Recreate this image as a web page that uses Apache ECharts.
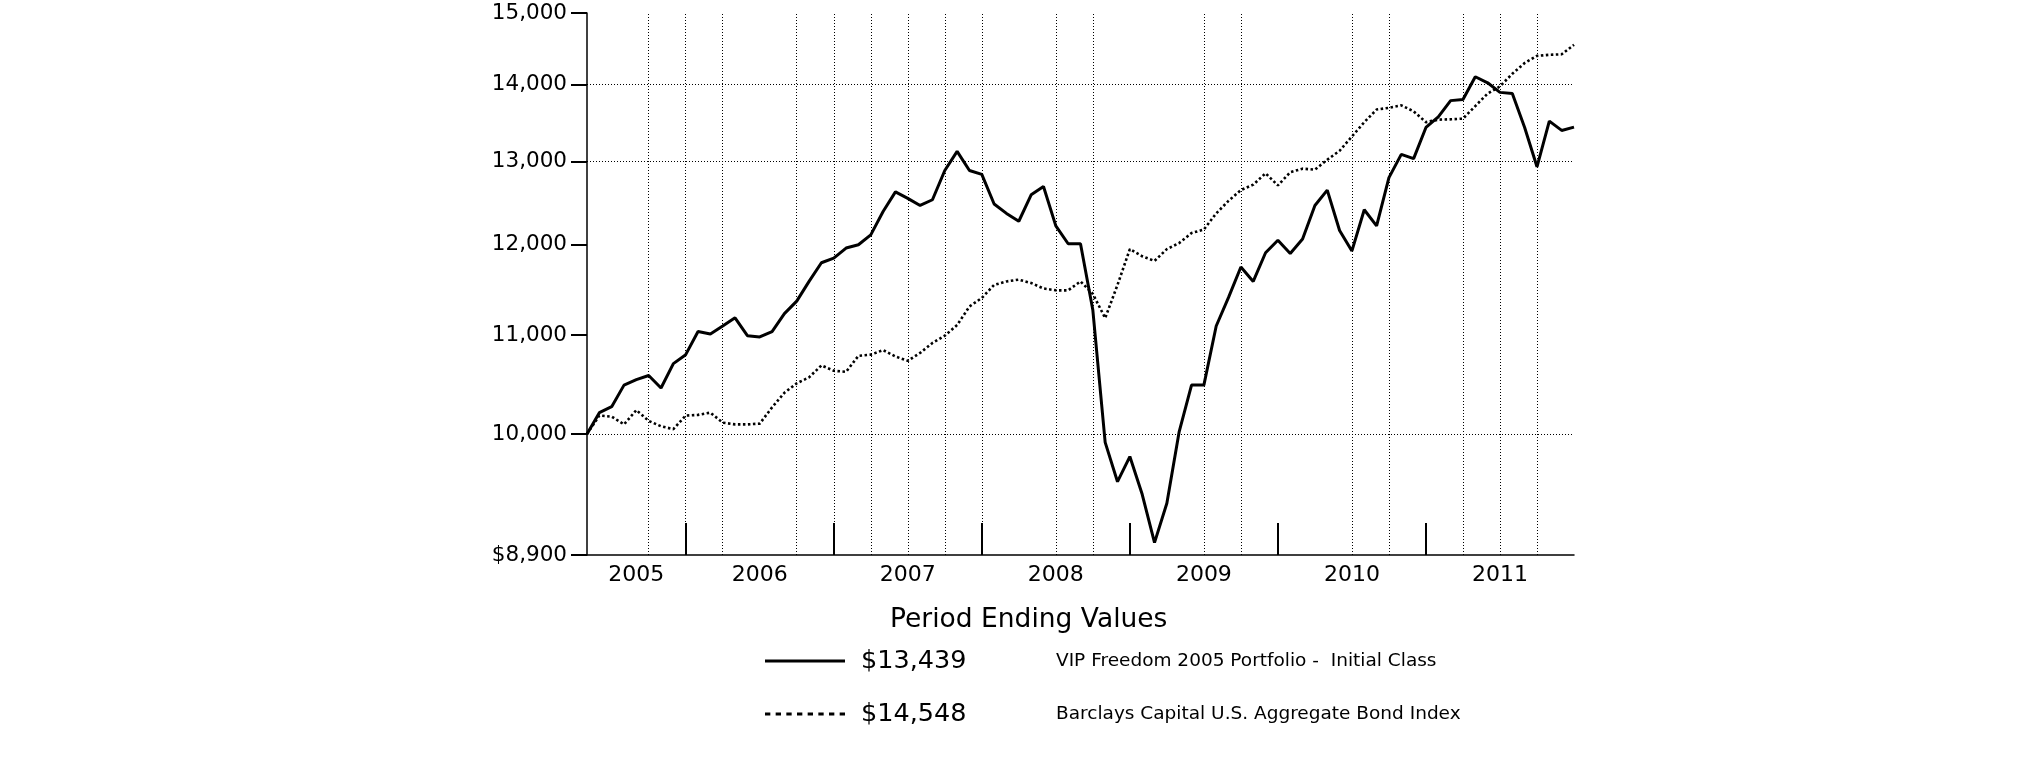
<!DOCTYPE html>
<html>
<head>
<meta charset="utf-8">
<script src="https://cdn.jsdelivr.net/npm/echarts@6/dist/echarts.min.js"></script>
<style>html,body{margin:0;padding:0;background:#fff}#chart{width:2025px;height:761px}</style>
</head>
<body>
<div id="chart"></div>
<script>
// ---------- data ----------
const months = [
  '2005-04','2005-05','2005-06','2005-07','2005-08','2005-09','2005-10','2005-11','2005-12',
  '2006-01','2006-02','2006-03','2006-04','2006-05','2006-06','2006-07','2006-08','2006-09','2006-10','2006-11','2006-12',
  '2007-01','2007-02','2007-03','2007-04','2007-05','2007-06','2007-07','2007-08','2007-09','2007-10','2007-11','2007-12',
  '2008-01','2008-02','2008-03','2008-04','2008-05','2008-06','2008-07','2008-08','2008-09','2008-10','2008-11','2008-12',
  '2009-01','2009-02','2009-03','2009-04','2009-05','2009-06','2009-07','2009-08','2009-09','2009-10','2009-11','2009-12',
  '2010-01','2010-02','2010-03','2010-04','2010-05','2010-06','2010-07','2010-08','2010-09','2010-10','2010-11','2010-12',
  '2011-01','2011-02','2011-03','2011-04','2011-05','2011-06','2011-07','2011-08','2011-09','2011-10','2011-11','2011-12'
];
const portfolio = [
  10000,10208,10267,10482,10537,10580,10453,10701,10794,
  11037,11011,11096,11184,10993,10980,11037,11229,11365,11583,11793,11845,
  11961,11999,12114,12389,12626,12548,12462,12531,12889,13129,12889,12840,
  12480,12367,12274,12591,12692,12219,12011,12011,11268,9920,9551,9785,
  9436,9007,9355,10023,10482,10482,11096,11406,11745,11583,11907,12052,
  11899,12065,12462,12648,12165,11928,12411,12219,12801,13091,13037,13434,
  13573,13786,13800,14107,14025,13896,13881,13434,12935,13517,13396,13439
];
const bondIndex = [
  10000,10179,10169,10093,10233,10127,10075,10047,10179,
  10186,10208,10110,10093,10093,10100,10260,10405,10500,10561,10683,10628,
  10617,10782,10794,10842,10775,10730,10812,10917,10993,11106,11307,11400,
  11544,11583,11603,11565,11505,11484,11484,11583,11445,11181,11544,11949,
  11867,11814,11949,12019,12135,12177,12367,12518,12648,12714,12854,12705,
  12867,12912,12899,13023,13136,13318,13503,13668,13691,13724,13645,13503,
  13536,13540,13549,13714,13881,13977,14147,14294,14393,14408,14415,14548
];
const seriesNames = ['VIP Freedom 2005 Portfolio -  Initial Class', 'Barclays Capital U.S. Aggregate Bond Index'];
const yearLabels = ['2005','2006','2007','2008','2009','2010','2011'];
const yearLabelIdx = [4,14,26,38,50,62,74];
const yearTickIdx = [8,20,32,44,56,68];
const vGridIdx = [5,8,11,17,20,23,26,29,32,38,41,50,53,62,65,71,74,77];
const yTickValues = [8900,10000,11000,12000,13000,14000,15000];
const yTickLabels = ['$8,900','10,000','11,000','12,000','13,000','14,000','15,000'];
const hGridValues = [10000,13000,14000];
const yMin = 8900, yMax = 15000;

// ---------- chart ----------
const FONT = 'DejaVu Sans';
const toLog = v => Math.log10(v);
const endLabel = arr => '$' + arr[arr.length - 1].toLocaleString('en-US');
const endLabels = [endLabel(portfolio), endLabel(bondIndex)];

// legend sample icons (solid bar, dashed bar)
const solidIcon = 'path://M0,0h82v3h-82z';
let dashPath = 'path://';
for (let x = 0; x < 80; x += 10) dashPath += 'M' + x + ',0h5v3h-5z';

const chart = echarts.init(document.getElementById('chart'), null, {renderer: 'canvas'});
chart.setOption({
  animation: false,
  backgroundColor: '#fff',
  title: {
    text: 'Period Ending Values',
    left: 890, top: 607, padding: 0,
    textStyle: {fontFamily: FONT, fontSize: 26.5, fontWeight: 'normal', color: '#000'}
  },
  legend: {
    orient: 'vertical', left: 765, top: 648, padding: 0,
    itemWidth: 80, itemHeight: 3, itemGap: 27,
    symbolKeepAspect: false,
    itemStyle: {color: '#000', borderWidth: 0},
    lineStyle: {opacity: 0},
    data: [
      {name: seriesNames[0], icon: solidIcon},
      {name: seriesNames[1], icon: dashPath}
    ],
    formatter: name => {
      const i = seriesNames.indexOf(name);
      return '{v|' + endLabels[i] + '}{n|' + name + '}';
    },
    textStyle: {
      color: '#000',
      rich: {
        v: {fontFamily: FONT, fontSize: 25.5, width: 195, padding: [0, 0, 0, 11], lineHeight: 30, color: '#000'},
        n: {fontFamily: FONT, fontSize: 18.5, lineHeight: 30, color: '#000'}
      }
    }
  },
  grid: {left: 587, top: 13, width: 987, height: 542, containLabel: false},
  xAxis: {
    type: 'category', data: months, boundaryGap: false,
    axisLine: {lineStyle: {color: '#000', width: 1.5}},
    axisTick: {
      inside: true, length: 32,
      interval: idx => yearTickIdx.includes(idx),
      lineStyle: {color: '#000', width: 2}
    },
    axisLabel: {
      interval: idx => yearLabelIdx.includes(idx),
      formatter: (val, idx) => yearLabels[yearLabelIdx.indexOf(idx)] || '',
      margin: 9, color: '#000', fontFamily: FONT, fontSize: 22
    },
    splitLine: {show: false}
  },
  yAxis: {
    type: 'value', min: toLog(yMin), max: toLog(yMax),
    axisLine: {show: true, lineStyle: {color: '#000', width: 1.5}},
    axisTick: {show: true, length: 16, customValues: yTickValues.map(toLog), lineStyle: {color: '#000', width: 2}},
    axisLabel: {
      customValues: yTickValues.map(toLog),
      margin: 20, color: '#000', fontFamily: FONT, fontSize: 21.5,
      formatter: v => {
        const raw = Math.pow(10, v);
        let best = 0;
        yTickValues.forEach((t, i) => { if (Math.abs(t - raw) < Math.abs(yTickValues[best] - raw)) best = i; });
        return yTickLabels[best];
      }
    },
    splitLine: {show: false}
  },
  series: [
    {
      name: seriesNames[0], type: 'line', data: portfolio.map(toLog),
      symbol: 'none', z: 4,
      itemStyle: {color: '#000'},
      lineStyle: {color: '#000', width: 3}
    },
    {
      name: seriesNames[1], type: 'line', data: bondIndex.map(toLog),
      symbol: 'none', z: 3,
      itemStyle: {color: '#000'},
      lineStyle: {color: '#000', width: 2.6, type: [2.5, 2.5]},
      markLine: {
        silent: true, symbol: 'none', label: {show: false}, precision: 10,
        lineStyle: {color: '#000', width: 1, type: [1, 2]},
        data: [
          ...vGridIdx.map(i => ({xAxis: i})),
          ...hGridValues.map(v => ({yAxis: toLog(v)})),
          {yAxis: toLog(yMax), lineStyle: {type: 'solid', width: 1.5, color: '#000'}}
        ]
      }
    }
  ]
});
</script>
</body>
</html>
